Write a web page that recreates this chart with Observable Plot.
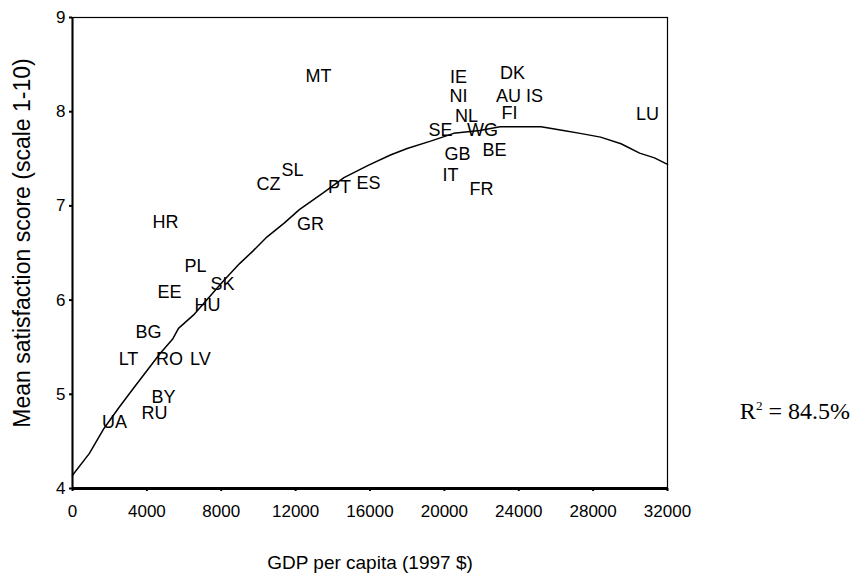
<!DOCTYPE html>
<html><head><meta charset="utf-8">
<script src="https://cdn.jsdelivr.net/npm/d3@7"></script>
<script src="https://cdn.jsdelivr.net/npm/@observablehq/plot@0.6"></script>
<style>
body{margin:0;background:#fff;}
#wrap{position:relative;width:853px;height:575px;}
#r2{position:absolute;right:3px;top:399px;line-height:1;font-family:"Liberation Serif","Times New Roman",serif;font-size:24px;color:#000;white-space:nowrap;}
#r2 sup{font-size:55%;vertical-align:0.7em;line-height:0;}
</style></head><body>
<div id="wrap"><div id="chart"></div><div id="r2"></div></div>
<script>
// Country codes and values
const countries = ["MT","IE","NI","DK","AU","IS","NL","FI","SE","WG","GB","BE","IT","FR","LU",
  "SL","CZ","PT","ES","GR","HR","PL","SK","EE","HU","BG","LT","RO","LV","BY","RU","UA"];
const gdp = [13230,20760,20760,23660,23450,24850,21190,23500,19790,22050,20700,22700,20330,22000,30920,
  11830,10540,14360,15920,12800,5000,6615,8070,5220,7260,4090,3010,5220,6880,4900,4410,2260];
const satisfaction = [8.38,8.37,8.16,8.41,8.16,8.16,7.95,7.98,7.80,7.80,7.55,7.59,7.33,7.18,7.97,
  7.38,7.23,7.20,7.24,6.81,6.83,6.36,6.17,6.08,5.95,5.66,5.37,5.37,5.37,4.97,4.80,4.70];

// Fitted curve points
const fitGdp = [0,900,1700,2500,3300,4000,4700,5400,5700,6500,7300,8100,9000,9700,10400,11400,12200,
  13500,14600,15900,17100,18000,19300,20500,21900,23000,25200,26400,27300,28400,29500,30500,31300,32000];
const fitScore = [4.14,4.37,4.64,4.86,5.07,5.25,5.43,5.59,5.70,5.84,6.02,6.20,6.39,6.52,6.66,6.82,6.96,
  7.14,7.30,7.43,7.54,7.61,7.69,7.77,7.80,7.84,7.84,7.80,7.77,7.73,7.66,7.56,7.51,7.44];

const xTicks = [0,4000,8000,12000,16000,20000,24000,28000,32000];
const yTicks = [4,5,6,7,8,9];
const xTitle = "GDP per capita (1997 $)";
const yTitle = "Mean satisfaction score (scale 1-10)";
const r2Value = "84.5%";

const points = countries.map((c, i) => ({code: c, gdp: gdp[i], score: satisfaction[i]}));
const fit = fitGdp.map((g, i) => ({gdp: g, score: fitScore[i]}));

document.getElementById("r2").innerHTML = "R<sup>2</sup> = " + r2Value;

const chart = Plot.plot({
  width: 853,
  height: 575,
  marginLeft: 72,
  marginRight: 186,
  marginTop: 17,
  marginBottom: 87,
  style: {fontFamily: "'Liberation Sans', Arial, sans-serif", background: "white", color: "black"},
  x: {domain: [0, 32000]},
  y: {domain: [4, 9]},
  marks: [
    Plot.frame({stroke: "black", strokeWidth: 1.2}),
    Plot.axisX({ticks: xTicks, tickFormat: d => String(d), tickSize: 3, strokeWidth: 2, tickPadding: 13, fontSize: 17, label: null}),
    Plot.axisY({ticks: yTicks, tickFormat: d => String(d), tickSize: 3, strokeWidth: 2, tickPadding: 4, fontSize: 17, label: null}),
    Plot.ruleX([0], {stroke: "black", strokeWidth: 2}),
    Plot.ruleY([4], {stroke: "black", strokeWidth: 3}),
    Plot.line(fit, {x: "gdp", y: "score", stroke: "black", strokeWidth: 1.5}),
    Plot.text(points, {x: "gdp", y: "score", text: "code", fontSize: 18, fill: "black"}),
    Plot.text([xTitle], {frameAnchor: "bottom", dy: 80, fontSize: 19, fill: "black"}),
    Plot.text([yTitle], {frameAnchor: "left", textAnchor: "middle", dx: -50, dy: -10, rotate: -90, fontSize: 23, fill: "black"})
  ]
});
document.getElementById("chart").appendChild(chart);
</script>
</body></html>
